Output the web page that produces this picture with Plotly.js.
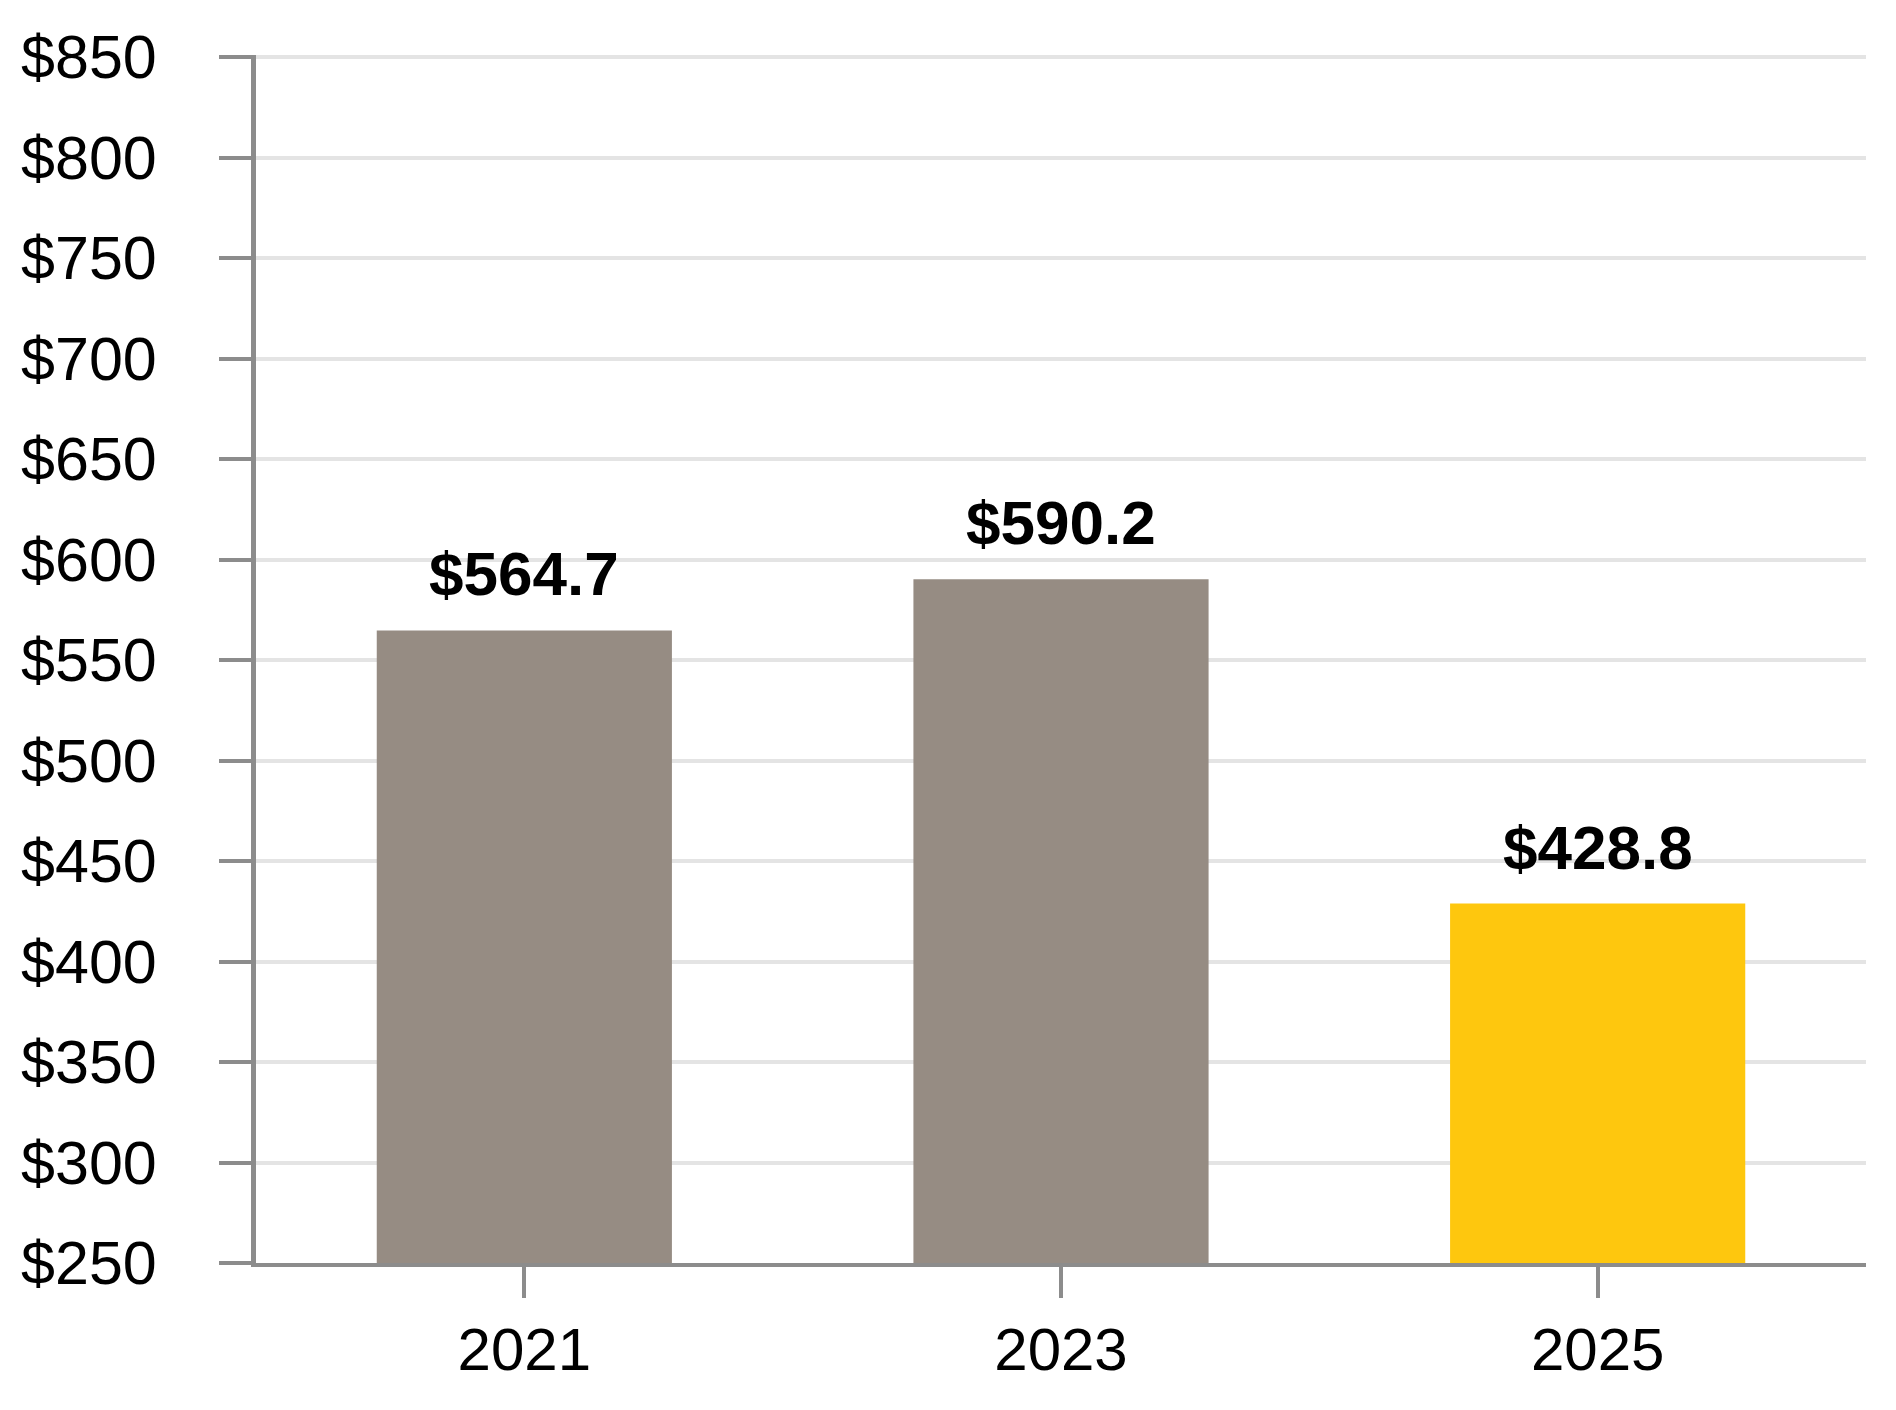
<!DOCTYPE html>
<html>
<head>
<meta charset="utf-8">
<script src="https://cdn.plot.ly/plotly-3.0.1.min.js"></script>
<style>
  html, body { margin: 0; padding: 0; background: #ffffff; }
  #chart { width: 1896px; height: 1410px; }
</style>
</head>
<body>
<div id="chart"></div>
<script>
// Data
const years = ["2021", "2023", "2025"];
const values = [564.7, 590.2, 428.8];
const labels = ["$564.7", "$590.2", "$428.8"];
const barColors = ["#968c83", "#968c83", "#fec70e"];

const FONT = "Liberation Sans, Arial, Helvetica, sans-serif";
const AXIS_GRAY = "#8c8c8c";

const trace = {
  type: "bar",
  x: years,
  y: values,
  marker: { color: barColors, line: { width: 0 } },
  hoverinfo: "none"
};

// annotation x given as category index so the category axis maps it correctly
const annotations = years.map((yr, i) => ({
  x: i,
  y: values[i],
  xref: "x",
  yref: "y",
  text: "<b>" + labels[i] + "</b>",
  showarrow: false,
  yanchor: "bottom",
  yshift: 20,
  font: { family: FONT, size: 62, color: "#000000" }
}));

const layout = {
  width: 1896,
  height: 1410,
  paper_bgcolor: "#ffffff",
  plot_bgcolor: "#ffffff",
  margin: { l: 256, r: 30, t: 55, b: 147 },
  showlegend: false,
  bargap: 0.45,
  font: { family: FONT, color: "#000000" },
  xaxis: {
    type: "category",
    range: [-0.5, years.length - 0.5],
    showline: true,
    linecolor: AXIS_GRAY,
    linewidth: 4,
    ticks: "outside",
    ticklen: 31,
    tickwidth: 4,
    tickcolor: AXIS_GRAY,
    showgrid: false,
    tickfont: { family: FONT, size: 60, color: "#000000" }
  },
  yaxis: {
    range: [250, 851],
    tickmode: "linear",
    tick0: 250,
    dtick: 50,
    tickprefix: "$",
    showline: true,
    linecolor: AXIS_GRAY,
    linewidth: 5,
    ticks: "outside",
    ticklen: 32,
    tickwidth: 4,
    tickcolor: AXIS_GRAY,
    showgrid: true,
    gridcolor: "#e4e4e4",
    gridwidth: 4,
    zeroline: false,
    ticklabelstandoff: 50,
    tickfont: { family: FONT, size: 61, color: "#000000" }
  },
  annotations: annotations
};

Plotly.newPlot("chart", [trace], layout, { staticPlot: true, displayModeBar: false });
</script>
</body>
</html>
